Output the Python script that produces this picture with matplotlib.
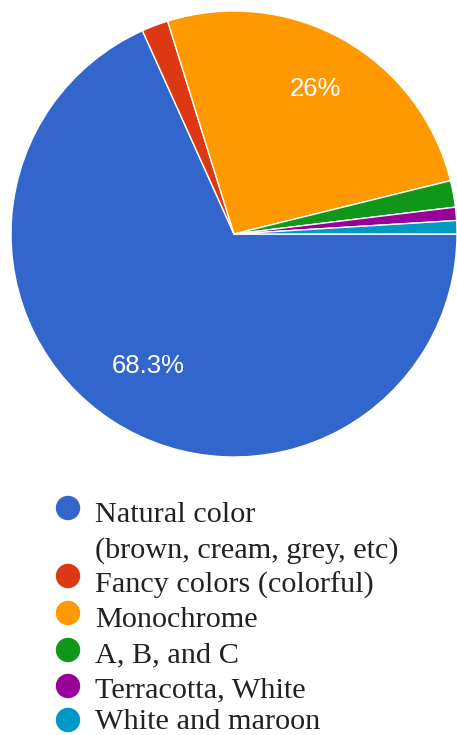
import numpy as np
import matplotlib
matplotlib.use("Agg")
import matplotlib.pyplot as plt
from matplotlib.patches import Circle

# ---- data ----
categories = ["Natural color\n(brown, cream, grey, etc)", "Fancy colors (colorful)",
              "Monochrome", "A, B, and C", "Terracotta, White", "White and maroon"]
counts = [71, 2, 27, 2, 1, 1]
colors = ["#3366CC", "#DC3912", "#FF9900", "#109618", "#990099", "#0099C6"]

W, H = 457, 735
fig = plt.figure(figsize=(W / 100, H / 100), dpi=100)

def fx(x):
    return x / W

def fy(y):
    return 1 - y / H

cx, cy, R = 234, 234, 223
ax = fig.add_axes([fx(cx - R), fy(cy + R), 2 * R / W, 2 * R / H])

def autopct(p):
    if p < 5:
        return ""
    s = f"{p:.1f}"
    if s.endswith(".0"):
        s = s[:-2]
    return s + "%"

wedges, texts, autotexts = ax.pie(
    counts, colors=colors, startangle=0, counterclock=False,
    autopct=autopct, pctdistance=0.72,
    wedgeprops=dict(edgecolor="white", linewidth=1.0),
    textprops=dict(color="white", fontsize=18.5, family=["Liberation Sans", "DejaVu Sans"]),
)
label_dist = [0.705, 0.72, 0.745, 0.72, 0.72, 0.72]
for w, t, d in zip(wedges, autotexts, label_dist):
    ang = np.deg2rad((w.theta1 + w.theta2) / 2)
    t.set_position((d * np.cos(ang), d * np.sin(ang)))
ax.set_xlim(-1, 1)
ax.set_ylim(-1, 1)
ax.set_aspect("equal")
ax.axis("off")

# ---- legend (manual) ----
baselines = [522, 593, 627, 662, 697, 729]
circle_y = [508, 576, 613, 650, 686, 720]
line_gap = 36
for lab, col, bl, cyy in zip(categories, colors, baselines, circle_y):
    fig.patches.append(Circle((fx(68) * W, fy(cyy) * H), 11.5, color=col,
                              transform=None, figure=fig))
    for i, line in enumerate(lab.split("\n")):
        fig.text(fx(95), fy(bl + i * line_gap), line, ha="left", va="baseline",
                 fontsize=21.8, family=["Liberation Serif", "DejaVu Serif"],
                 color="#222222")

fig.savefig("out.png", dpi=100)
